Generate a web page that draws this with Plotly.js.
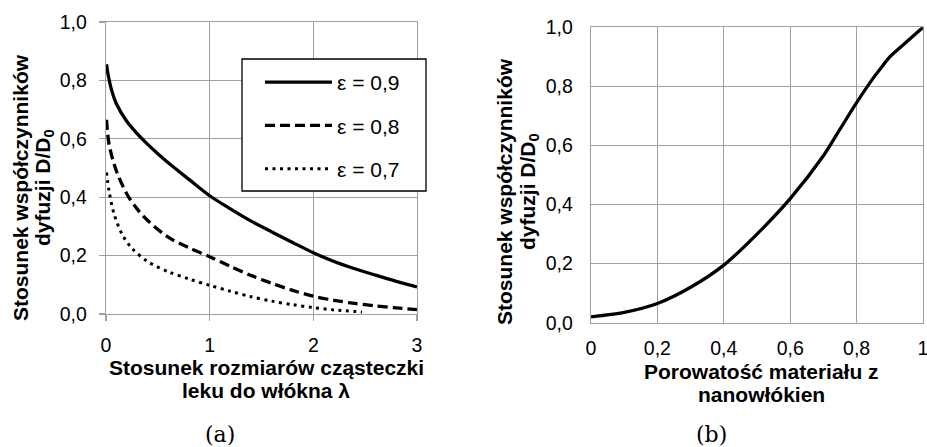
<!DOCTYPE html>
<html>
<head>
<meta charset="utf-8">
<script src="https://cdn.plot.ly/plotly-3.0.1.min.js"></script>
<style>html,body{margin:0;padding:0;background:#fff;}#chart{width:927px;height:447px;}</style>
</head>
<body>
<div id="chart"></div>
<script>
// (a) D/D0 vs lambda for three porosities
const e09_x = [0.005, 0.02, 0.05, 0.1, 0.2, 0.3, 0.4, 0.5, 0.6, 0.8, 1.0, 1.2, 1.4, 1.6, 1.8, 2.0, 2.2, 2.4, 2.6, 2.8, 3.0];
const e09_y = [0.855, 0.82, 0.772, 0.72, 0.66, 0.618, 0.582, 0.549, 0.518, 0.461, 0.405, 0.36, 0.318, 0.281, 0.245, 0.21, 0.18, 0.155, 0.133, 0.112, 0.093];
const e08_x = [0.005, 0.03, 0.1, 0.2, 0.3, 0.4, 0.6, 0.8, 1.0, 1.2, 1.4, 1.6, 1.8, 2.0, 2.2, 2.4, 2.6, 2.8, 3.0];
const e08_y = [0.665, 0.58, 0.49, 0.412, 0.36, 0.321, 0.263, 0.227, 0.196, 0.163, 0.132, 0.105, 0.081, 0.061, 0.047, 0.036, 0.028, 0.021, 0.015];
const e07_x = [0.005, 0.03, 0.08, 0.16, 0.25, 0.4, 0.6, 0.8, 1.0, 1.2, 1.4, 1.6, 1.8, 2.0, 2.2, 2.47];
const e07_y = [0.485, 0.42, 0.34, 0.27, 0.225, 0.18, 0.145, 0.12, 0.098, 0.078, 0.059, 0.044, 0.032, 0.022, 0.014, 0.007];
const seriesNames = ['ε = 0,9', 'ε = 0,8', 'ε = 0,7'];

// (b) D/D0 vs porosity
const por_x = [0, 0.1, 0.2, 0.3, 0.4, 0.5, 0.6, 0.7, 0.75, 0.8, 0.85, 0.88, 0.9, 0.95, 1.0];
const por_y = [0.02, 0.035, 0.065, 0.12, 0.195, 0.3, 0.42, 0.565, 0.655, 0.745, 0.828, 0.872, 0.9, 0.95, 1.0];

// ticks
const xa_vals = [0, 1, 2, 3];
const xa_text = ['0', '1', '2', '3'];
const xb_vals = [0, 0.2, 0.4, 0.6, 0.8, 1.0];
const xb_text = ['0', '0,2', '0,4', '0,6', '0,8', '1'];
const y_vals = [0, 0.2, 0.4, 0.6, 0.8, 1.0];
const y_text = ['0,0', '0,2', '0,4', '0,6', '0,8', '1,0'];

// titles
const xaTitle = ['Stosunek rozmiarów cząsteczki', 'leku do włókna λ'];
const xbTitle = ['Porowatość materiału z', 'nanowłókien'];
const yTitle = ['Stosunek współczynników', 'dyfuzji D/D<sub>0</sub>'];
const captions = ['(a)', '(b)'];

const W = 927, H = 447;
const px = v => v / W;
const py = v => 1 - v / H;
const GRID = '#a0a0a0';

const traces = [
  {x: e09_x, y: e09_y, name: seriesNames[0], legendgroup: 'g1', mode: 'lines', line: {color: '#000', width: 3.3, shape: 'spline', smoothing: 0.9}, xaxis: 'x', yaxis: 'y'},
  {x: e08_x, y: e08_y, name: seriesNames[1], legendgroup: 'g2', mode: 'lines', line: {color: '#000', width: 3.3, dash: '10px,5px', shape: 'spline', smoothing: 0.9}, xaxis: 'x', yaxis: 'y'},
  {x: e07_x, y: e07_y, name: seriesNames[2], legendgroup: 'g3', mode: 'lines', line: {color: '#000', width: 3, dash: '3px,4.5px', shape: 'spline', smoothing: 0.9}, xaxis: 'x', yaxis: 'y'},
  {x: por_x, y: por_y, name: 'b', showlegend: false, mode: 'lines', line: {color: '#000', width: 3.3, shape: 'spline', smoothing: 0.8}, xaxis: 'x2', yaxis: 'y2'}
];

const tickFont = {family: 'Liberation Sans, Arial, sans-serif', size: 19.5, color: '#000'};
const common = {
  showgrid: true, gridcolor: GRID, gridwidth: 1.3,
  showline: true, linecolor: GRID, linewidth: 1.3, mirror: true,
  zeroline: false, tickfont: tickFont, fixedrange: true, ticklabeloverflow: 'allow'
};

const titleFont = {family: 'Liberation Sans, Arial, sans-serif', size: 21, color: '#000'};
function ann(text, x, y, extra) {
  return Object.assign({text: text, x: px(x), y: py(y), xref: 'paper', yref: 'paper', showarrow: false, xanchor: 'center', yanchor: 'middle', font: titleFont}, extra || {});
}

const annotations = [
  ann('<b>' + xaTitle[0] + '</b>', 266, 367),
  ann('<b>' + xaTitle[1] + '</b>', 266, 390),
  ann('<b>' + xbTitle[0] + '</b>', 761, 371),
  ann('<b>' + xbTitle[1] + '</b>', 761, 394),
  ann('<b>' + yTitle[0] + '</b>', 20, 188, {textangle: -90}),
  ann('<b>' + yTitle[1] + '</b>', 44, 188, {textangle: -90}),
  ann('<b>' + yTitle[0] + '</b>', 504, 192, {textangle: -90}),
  ann('<b>' + yTitle[1] + '</b>', 529, 192, {textangle: -90}),
  ann(captions[0], 220, 434, {font: {family: 'DejaVu Serif, serif', size: 22, color: '#000'}}),
  ann(captions[1], 711, 434, {font: {family: 'DejaVu Serif, serif', size: 22, color: '#000'}})
];

// legend frame (layout decoration)
const legendFrame = {type: 'rect', xref: 'paper', yref: 'paper', x0: px(242), x1: px(426), y0: py(191), y1: py(59),
  line: {color: '#000', width: 1.3}, fillcolor: '#fff', layer: 'above'};

const layout = {
  width: W, height: H,
  margin: {l: 0, r: 0, t: 0, b: 0, pad: 0},
  paper_bgcolor: '#fff', plot_bgcolor: '#fff',
  separators: ',.',
  font: tickFont,
  showlegend: true,
  legend: {
    x: px(242), y: py(62), xanchor: 'left', yanchor: 'top',
    bgcolor: 'rgba(0,0,0,0)', borderwidth: 0,
    font: {family: 'Liberation Sans, Arial, sans-serif', size: 21, color: '#000'},
    indentation: 18, itemwidth: 67, tracegroupgap: 13, traceorder: 'grouped'
  },
  shapes: [legendFrame],
  xaxis: Object.assign({}, common, {
    domain: [px(106), px(417)], range: [0, 3], anchor: 'y',
    tickmode: 'array', tickvals: xa_vals, ticktext: xa_text,
    ticks: 'outside', ticklen: 6, tickcolor: GRID, tickwidth: 1.3, ticklabelstandoff: 7
  }),
  yaxis: Object.assign({}, common, {
    domain: [1 - 314 / H, 1 - 22 / H], range: [0, 1], anchor: 'x',
    tickmode: 'array', tickvals: y_vals, ticktext: y_text,
    ticks: 'outside', ticklen: 6, tickcolor: GRID, tickwidth: 1.3, ticklabelstandoff: 8
  }),
  xaxis2: Object.assign({}, common, {
    domain: [px(591), px(923)], range: [0, 1], anchor: 'y2',
    tickmode: 'array', tickvals: xb_vals, ticktext: xb_text,
    ticks: '', ticklabelstandoff: 8
  }),
  yaxis2: Object.assign({}, common, {
    domain: [1 - 322.7 / H, 1 - 27.3 / H], range: [0, 1], anchor: 'x2',
    tickmode: 'array', tickvals: y_vals, ticktext: y_text,
    ticks: '', ticklabelstandoff: 13
  }),
  annotations: annotations
};

Plotly.newPlot('chart', traces, layout, {staticPlot: true, displayModeBar: false});
</script>
</body>
</html>
